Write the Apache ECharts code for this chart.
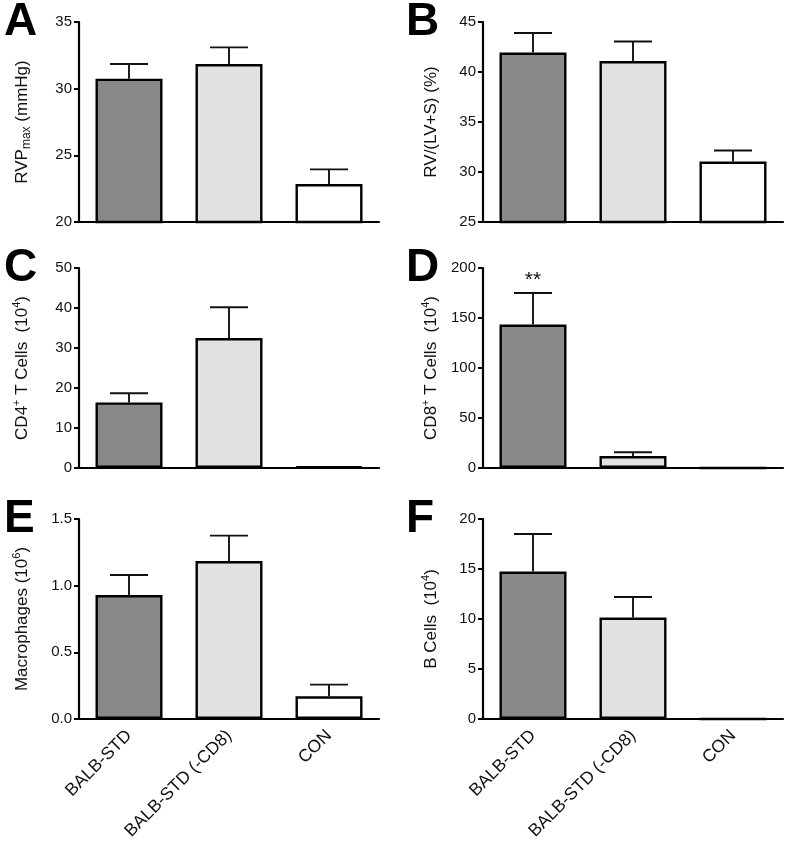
<!DOCTYPE html>
<html>
<head>
<meta charset="utf-8">
<script src="https://cdn.jsdelivr.net/npm/echarts@6/dist/echarts.min.js"></script>
<style>
html,body{margin:0;padding:0;background:#fff;}
#main{width:788px;height:844px;}
</style>
</head>
<body>
<div id="main"></div>
<script>
// ---- data ----
var categories = ['BALB-STD', 'BALB-STD (-CD8)', 'CON'];
var barColors = ['#898989', '#e1e1e1', '#ffffff'];

var rvpMean = [30.75, 31.85, 22.85];
var rvpSem  = [1.1, 1.25, 1.1];

var rvMean  = [41.95, 41.1, 31.05];
var rvSem   = [1.95, 1.95, 1.1];

var cd4Mean = [16.4, 32.5, 0.35];
var cd4Sem  = [2.3, 7.7, 0];

var cd8Mean = [143.5, 12, 0];
var cd8Sem  = [31.5, 3.8, 0];
var cd8Sig  = ['**', '', ''];

var macMean = [0.93, 1.185, 0.17];
var macSem  = [0.15, 0.19, 0.088];

var bMean   = [14.75, 10.15, 0];
var bSem    = [3.75, 2.05, 0];

var yTicksA = [20, 35, 5];
var yTicksB = [25, 45, 5];
var yTicksC = [0, 50, 10];
var yTicksD = [0, 200, 50];
var yTicksE = [0, 1.5, 0.5];
var yTicksF = [0, 20, 5];

// ---- layout ----
var FONT = 'Liberation Sans, Arial, Helvetica, sans-serif';
var panels = [
  {letter:'A', left:79,  top:22,  mean:rvpMean, sem:rvpSem, y:yTicksA, name:'{n|RVP}{sub|max}{n| (mmHg)}', gap:46, dec:0},
  {letter:'B', left:483, top:22,  mean:rvMean,  sem:rvSem,  y:yTicksB, name:'{n|RV/(LV+S) (%)}', gap:41, dec:0},
  {letter:'C', left:79,  top:268, mean:cd4Mean, sem:cd4Sem, y:yTicksC, name:'{n|CD4}{sup|+}{n| T Cells  (10}{sup|4}{n|)}', gap:46, dec:0},
  {letter:'D', left:483, top:268, mean:cd8Mean, sem:cd8Sem, y:yTicksD, name:'{n|CD8}{sup|+}{n| T Cells  (10}{sup|4}{n|)}', gap:41, dec:0, sig:cd8Sig},
  {letter:'E', left:79,  top:519, mean:macMean, sem:macSem, y:yTicksE, name:'{n|Macrophages (10}{sup|6}{n|)}', gap:46, dec:1, xlab:true},
  {letter:'F', left:483, top:519, mean:bMean,   sem:bSem,   y:yTicksF, name:'{n|B Cells  (10}{sup|4}{n|)}', gap:41, dec:0, xlab:true}
];
var GW = 300, GH = 200;
var INK = '#111';

var richName = {
  n:   {fontSize:17, fontFamily:FONT, color:INK, lineHeight:22, verticalAlign:'middle'},
  sup: {fontSize:11, fontFamily:FONT, color:INK, lineHeight:12, verticalAlign:'top'},
  sub: {fontSize:12, fontFamily:FONT, color:INK, lineHeight:12, verticalAlign:'bottom'}
};

var grid = [], xAxis = [], yAxis = [], series = [], graphic = [];

panels.forEach(function (p, i) {
  grid.push({left:p.left, top:p.top, width:GW, height:GH, containLabel:false});
  xAxis.push({
    type:'category', gridIndex:i, data:categories,
    axisLine:{lineStyle:{color:'#000', width:2.2}},
    axisTick:{alignWithLabel:true, length:5, lineStyle:{color:'#000', width:2}},
    axisLabel:{show:!!p.xlab, rotate:45, fontSize:17.5, fontFamily:FONT, color:INK, margin:14, interval:0},
    splitLine:{show:false}
  });
  yAxis.push({
    type:'value', gridIndex:i, min:p.y[0], max:p.y[1], interval:p.y[2],
    axisLine:{show:true, lineStyle:{color:'#000', width:2.2}},
    axisTick:{show:true, length:5, lineStyle:{color:'#000', width:2}},
    axisLabel:{fontSize:15, fontFamily:FONT, color:INK, margin:7,
      formatter:function (v) { return p.dec ? v.toFixed(p.dec) : String(v); }},
    splitLine:{show:false},
    name:p.name, nameLocation:'middle', nameGap:p.gap, nameRotate:90,
    nameTextStyle:{rich:richName}
  });
  series.push({
    type:'bar', xAxisIndex:i, yAxisIndex:i, barWidth:'67%',
    data:p.mean.map(function (v, k) {
      return {value:v, itemStyle:{color:barColors[k], borderColor:'#000', borderWidth:2.4}};
    }),
    z:2
  });
  var eb = p.mean.map(function (v, k) { return [k, v, v + p.sem[k], p.sig ? p.sig[k] : '']; });
  series.push({
    type:'custom', xAxisIndex:i, yAxisIndex:i, z:3,
    data:eb,
    encode:{x:0, y:[1, 2]},
    renderItem:function (params, api) {
      var k = api.value(0), m = api.value(1), u = api.value(2);
      var sig = eb[params.dataIndex][3];
      var children = [];
      if (u > m) {
        var p0 = api.coord([k, m]), p1 = api.coord([k, u]);
        var st = {stroke:'#111', lineWidth:1.9};
        children.push({type:'line', shape:{x1:p0[0], y1:p0[1], x2:p1[0], y2:p1[1]}, style:st});
        children.push({type:'line', shape:{x1:p1[0] - 19, y1:p1[1], x2:p1[0] + 19, y2:p1[1]}, style:st});
        if (sig) {
          children.push({type:'text', style:{text:sig, x:p1[0], y:p1[1] - 2, align:'center', verticalAlign:'bottom',
            font:'21px ' + FONT, fill:INK}});
        }
      }
      return {type:'group', children:children};
    }
  });
  graphic.push({
    type:'text', left: p.left - (p.left > 300 ? 77 : 75), top: p.top - 23,
    style:{text:p.letter, font:'bold 46px ' + FONT, fill:'#000'}
  });
});

var chart = echarts.init(document.getElementById('main'), null, {renderer:'canvas'});
chart.setOption({
  animation:false,
  backgroundColor:'#fff',
  grid:grid, xAxis:xAxis, yAxis:yAxis, series:series, graphic:graphic
});
</script>
</body>
</html>
